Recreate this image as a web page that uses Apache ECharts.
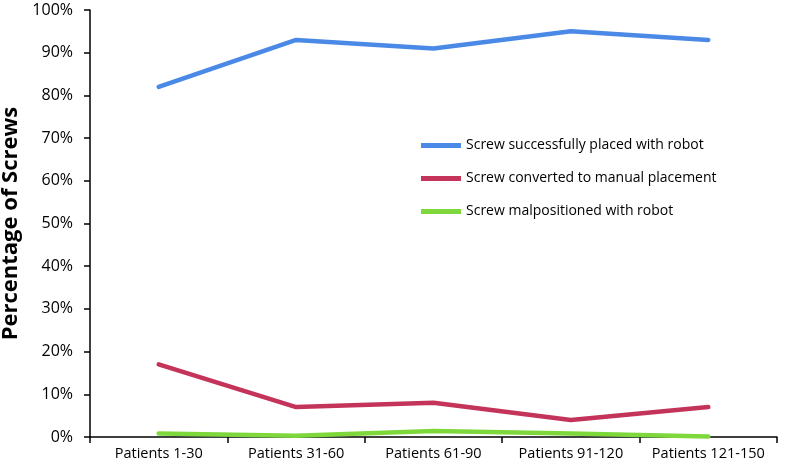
<!DOCTYPE html>
<html><head><meta charset="utf-8">
<script src="https://cdn.jsdelivr.net/npm/echarts@6/dist/echarts.min.js"></script>
<style>html,body{margin:0;padding:0;background:#fff}#c{width:786px;height:469px}</style>
</head><body><div id="c"></div>
<script>
const categories = ["Patients 1-30","Patients 31-60","Patients 61-90","Patients 91-120","Patients 121-150"];
const successRobot = [82, 93, 91, 95, 93];
const convertedManual = [17, 7, 8, 4, 7];
const malpositioned = [0.8, 0.3, 1.4, 0.8, 0.1];
const seriesNames = ["Screw successfully placed with robot","Screw converted to manual placement","Screw malpositioned with robot"];
const colors = ["#4a8ae6","#c4345a","#7ed83c"];
const font = "'Open Sans', 'Liberation Sans', sans-serif";

const chart = echarts.init(document.getElementById('c'), null, {renderer:'canvas'});
const mk = (name, data, color) => ({
  name, type:'line', data, symbol:'none', smooth:false,
  lineStyle:{width:4.5, color, cap:'round'}, itemStyle:{color}
});
chart.setOption({
  animation:false,
  color: colors,
  grid:{left:90, right:9, top:10, bottom:32, containLabel:false, outerBoundsMode:'none'},
  legend:{
    orient:'vertical', left:416, top:131, itemGap:14, itemWidth:40, itemHeight:5,
    icon:'rect',
    textStyle:{fontFamily:font, fontSize:14, color:'#000', lineHeight:19},
    data: seriesNames
  },
  xAxis:{
    type:'category', data:categories, boundaryGap:true,
    axisLine:{lineStyle:{color:'#000', width:1.5}},
    axisTick:{show:true, length:6, lineStyle:{color:'#000', width:1.5}},
    axisLabel:{fontFamily:font, fontSize:14.5, color:'#000', margin:9, interval:0}
  },
  yAxis:{
    type:'value', min:0, max:100, interval:10,
    name:'Percentage of Screws', nameLocation:'middle', nameGap:66,
    nameTextStyle:{fontFamily:font, fontSize:22, fontWeight:'bold', color:'#000'},
    axisLine:{show:true, lineStyle:{color:'#000', width:1.5}},
    axisTick:{show:true, length:6, lineStyle:{color:'#000', width:1.5}},
    splitLine:{show:false},
    axisLabel:{fontFamily:font, fontSize:16, color:'#000', margin:17, formatter:'{value}%'}
  },
  series:[
    mk(seriesNames[0], successRobot, colors[0]),
    mk(seriesNames[1], convertedManual, colors[1]),
    mk(seriesNames[2], malpositioned, colors[2])
  ]
});
</script></body></html>
